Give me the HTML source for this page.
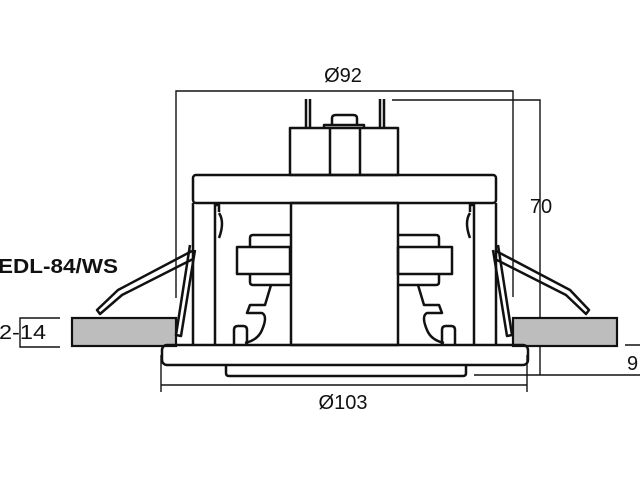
<!DOCTYPE html>
<html><head><style>
html,body{margin:0;padding:0;background:#fff;width:640px;height:480px;overflow:hidden}
svg text{font-family:"Liberation Sans",sans-serif;fill:#111}
</style></head><body>
<svg width="640" height="480" viewBox="0 0 640 480" xmlns="http://www.w3.org/2000/svg">
<g fill="none" stroke="#111" stroke-width="1.4">
<path d="M176 298V91H513V297"/>
<path d="M392 100H540V375"/>
<path d="M474 375H640M625 345H640"/>
<path d="M161 355V392M527 355V392M161 385H527"/>
<path d="M60 318H20V347H60"/>
</g>
<rect x="72" y="318" width="104" height="28" fill="#bdbdbd" stroke="#111" stroke-width="2.2"/>
<rect x="513" y="318" width="104" height="28" fill="#bdbdbd" stroke="#111" stroke-width="2.2"/>
<g fill="none" stroke="#111" stroke-width="2.5" stroke-linejoin="round">
<path d="M192 251L118 290L97 310L100 314L122 295L193 259"/>
<path d="M496 251L570 290L589 310L586 314L566 295L495 259"/>
<path d="M190 245L176 335L181 336L195 250"/>
<path d="M498 245L512 335L507 336L493 250"/>
<path d="M306 128V99M310 128V99M380 128V99M384 128V99"/>
<rect x="290" y="128" width="108" height="47"/>
<path d="M330 128V175M360 128V175"/>
<path d="M324 128V125H364V128M332 125V118Q332 115 336 115H353Q357 115 357 118V125"/>
<rect x="193" y="175" width="303" height="28" rx="3"/>
<path d="M193 203V345M496 203V345M215 203V345M474 203V345"/>
<rect x="291" y="203" width="107" height="142"/>
<path d="M215 205H219V212M474 205H470V212"/>
<path d="M219 213Q225 222 219 238M470 213Q464 222 470 238"/>
<path d="M290 235H253Q250 235 250 238V247"/>
<rect x="237" y="247" width="53" height="27"/>
<path d="M250 274V282Q250 285 253 285H290"/>
<path d="M271 285L265 305H250L247 313H262Q268 316 262 330Q258 340 245 343"/>
<path d="M234 345V330Q234 326 238 326H243Q247 326 247 330V345"/>
<path d="M398 235H436Q439 235 439 238V247"/>
<rect x="398" y="247" width="54" height="27"/>
<path d="M439 274V282Q439 285 436 285H398"/>
<path d="M418 285L424 305H439L442 313H427Q421 316 427 330Q431 340 444 343"/>
<path d="M455 345V330Q455 326 451 326H446Q442 326 442 330V345"/>
<rect x="162" y="345" width="366" height="20" rx="5"/>
<path d="M226 365V373Q226 376 229 376H463Q466 376 466 373V365"/>
</g>
<text x="343" y="82" font-size="20" text-anchor="middle">Ø92</text>
<text x="541" y="213" font-size="20" text-anchor="middle">70</text>
<text x="343" y="409" font-size="20" text-anchor="middle">Ø103</text>
<text x="627" y="370" font-size="20">9</text>
<text x="-1" y="339" font-size="20" textLength="47" lengthAdjust="spacingAndGlyphs">2-14</text>
<text x="-2" y="273" font-size="20" font-weight="bold" textLength="120" lengthAdjust="spacingAndGlyphs">EDL-84/WS</text>
</svg>
</body></html>
